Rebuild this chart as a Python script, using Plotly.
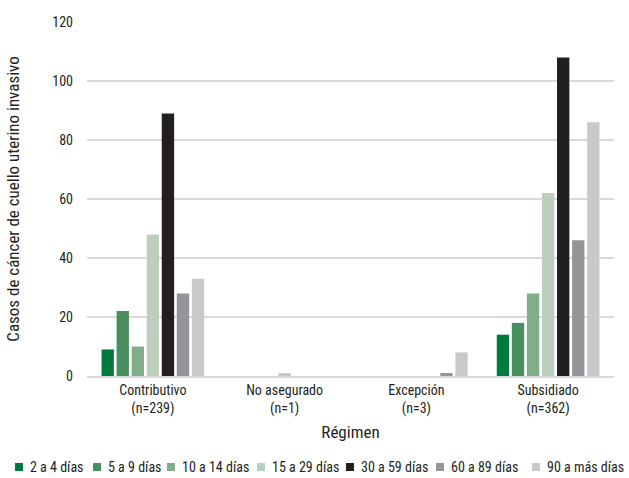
import plotly.graph_objects as go

regimen = ["Contributivo<br>(n=239)", "No asegurado<br>(n=1)", "Excepción<br>(n=3)", "Subsidiado<br>(n=362)"]
series = ["2 a 4 días", "5 a 9 días", "10 a 14 días", "15 a 29 días",
          "30 a 59 días", "60 a 89 días", "90 a más días"]
d2_4 = [9, 0, 0, 14]
d5_9 = [22, 0, 0, 18]
d10_14 = [10, 0, 0, 28]
d15_29 = [48, 1, 0, 62]
d30_59 = [89, 0, 0, 108]
d60_89 = [28, 0, 1, 46]
d90 = [33, 0, 8, 86]
values = [d2_4, d5_9, d10_14, d15_29, d30_59, d60_89, d90]
colors = ["#007a3d", "#4a8f5f", "#82ad8a", "#bccfbf", "#231f20", "#939598", "#c8c9cb"]

font = "Liberation Sans Narrow, Roboto Condensed, Arial Narrow, sans-serif"

fig = go.Figure()
for name, vals, col in zip(series, values, colors):
    fig.add_trace(go.Bar(x=regimen, y=vals, name=name, marker_color=col,
                         marker_line_width=0, showlegend=False))

# one-row legend drawn by hand (plotly's legend spacing is too wide to fit)
# page pixels -> paper coords; plot area is x 87..614, y 22..376
def px(x):
    return (x - 87) / 527

def py(y):
    return (376 - y) / 354

sym_left = [15, 93, 167, 257, 346, 436, 532]
for name, col, x in zip(series, colors, sym_left):
    fig.add_shape(type="rect", xref="paper", yref="paper",
                  x0=px(x), x1=px(x + 8), y0=py(471), y1=py(463),
                  fillcolor=col, line_width=0)
    fig.add_annotation(text=name, xref="paper", yref="paper", x=px(x + 13), y=py(467),
                       xanchor="left", yanchor="middle", showarrow=False,
                       font=dict(size=14))

fig.update_layout(
    width=629, height=478,
    margin=dict(l=87, r=15, t=22, b=102, autoexpand=False),
    paper_bgcolor="white", plot_bgcolor="white",
    barmode="group", bargap=0.2, bargroupgap=0.18,
    font=dict(family=font, size=14, color="#231f20"),
    showlegend=False,
)
fig.update_xaxes(title=dict(text="Régimen", standoff=10), showgrid=False, automargin=False,
                 showline=True, linecolor="#d9d9d9", linewidth=2, ticks="")
fig.update_yaxes(title=dict(text="Casos de cáncer de cuello uterino invasivo", standoff=28),
                 range=[0, 120], dtick=20, showgrid=True, gridcolor="#d9d9d9", automargin=True,
                 gridwidth=1.5, zeroline=False, ticks="", ticklabelstandoff=13)

# drop the default 8px body margin so the figure fills the window
fig.write_html("out.html", config={"displayModeBar": False},
               post_script="document.body.style.margin='0';"
                           "document.body.style.overflow='hidden';")
